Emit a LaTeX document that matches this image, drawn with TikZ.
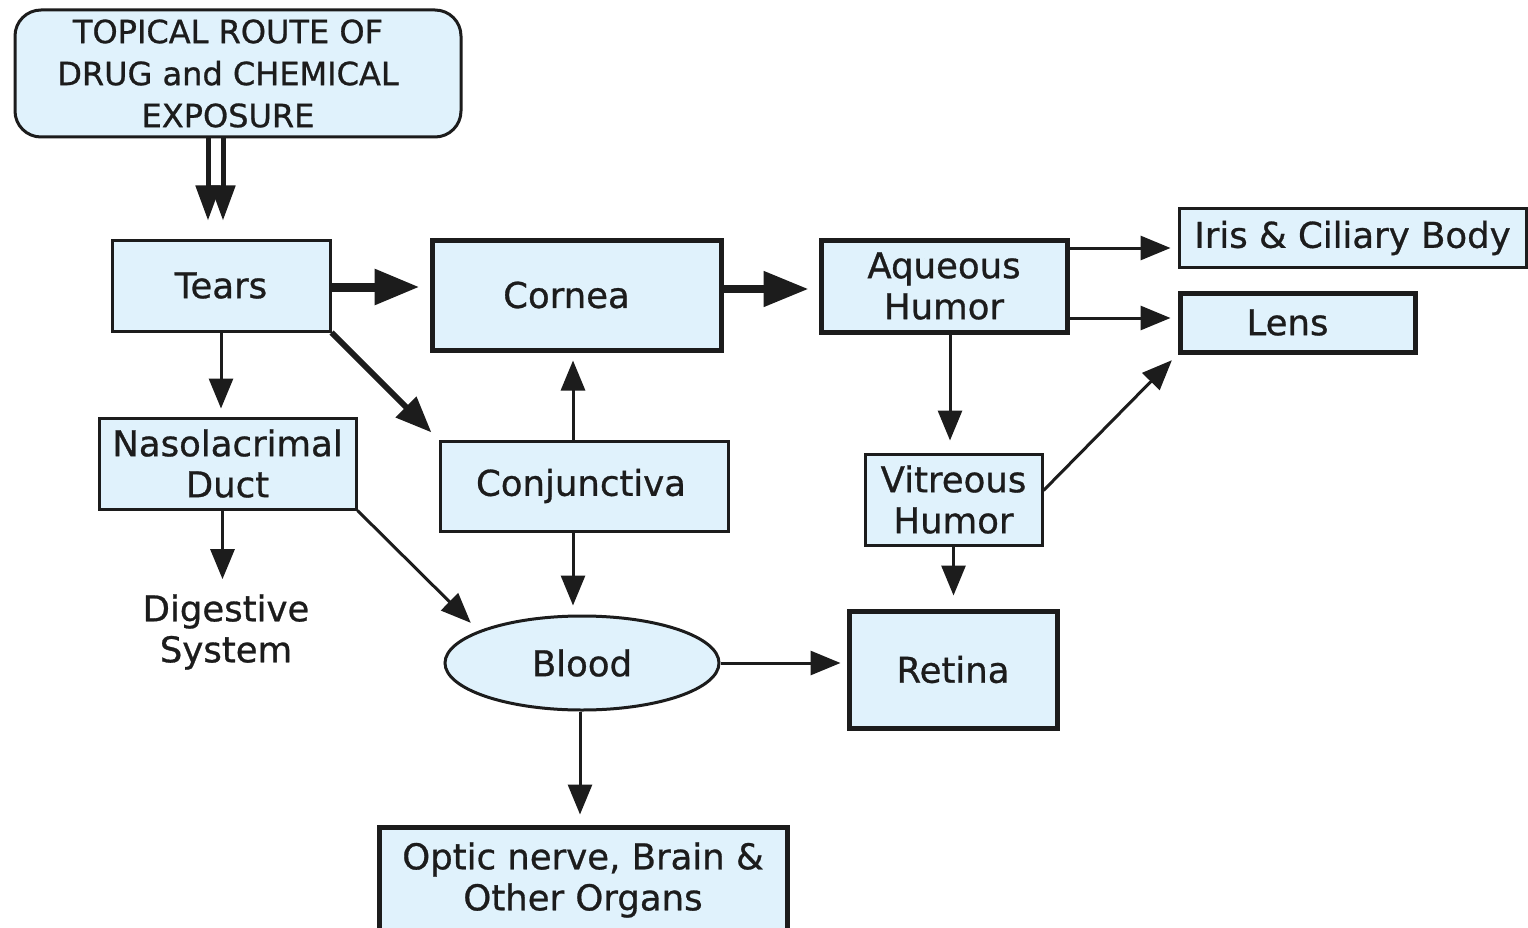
\documentclass[tikz,border=0pt]{standalone}
\usepackage{fontspec}
\setmainfont{DejaVu Sans}[FakeBold=0.8]
\usetikzlibrary{arrows.meta,shapes.geometric,calc}
\definecolor{boxfill}{HTML}{E0F2FC}
\definecolor{ink}{HTML}{1C1C1C}
\begin{document}
\begin{tikzpicture}[x=1pt,y=-1pt,
  every node/.style={text=ink,font=\fontsize{35.5}{41}\selectfont,align=center,inner sep=0pt},
  thinbox/.style={draw=ink,fill=boxfill,line width=3pt},
  thickbox/.style={draw=ink,fill=boxfill,line width=5pt},
  arr/.style={draw=ink,line width=3pt,-{Triangle[length=30pt,width=24pt]}},
  bigarr/.style={draw=ink,line width=9pt,-{Triangle[length=45pt,width=34pt]}},
  diagarr/.style={draw=ink,line width=6pt,-{Triangle[length=36pt,width=28pt]}},
  duoarr/.style={draw=ink,line width=5pt,-{Triangle[length=35pt,width=24pt]}}]
\clip (0,0) rectangle (1528,928);
\fill[white] (0,0) rectangle (1528,928);

% boxes
\node[thinbox,rounded corners=26pt,minimum width=446pt,minimum height=127pt,
      font=\fontsize{32}{42}\selectfont] (top) at (238,73.5)
      {\hspace*{-20pt}TOPICAL ROUTE OF\\\hspace*{-20pt}DRUG and CHEMICAL\\\hspace*{-20pt}EXPOSURE};
\node[thinbox,minimum width=218pt,minimum height=91pt] (tears) at (221,285.5) {Tears};
\node[thickbox,minimum width=289pt,minimum height=110pt] (cornea) at (576.5,295) {\hspace*{-20pt}Cornea};
\node[thickbox,minimum width=246pt,minimum height=92pt] (aqueous) at (944,286) {Aqueous\\Humor};
\node[thinbox,minimum width=347pt,minimum height=58pt] (iris) at (1352.5,238) {Iris \& Ciliary Body};
\node[thickbox,minimum width=235pt,minimum height=59pt] (lens) at (1297.5,322.5) {\hspace*{-20pt}Lens};
\node[thinbox,minimum width=257pt,minimum height=91pt] (naso) at (227.5,463.5) {Nasolacrimal\\Duct};
\node[thinbox,minimum width=288pt,minimum height=90pt] (conj) at (584,486) {\hspace*{-6pt}Conjunctiva};
\node[thinbox,minimum width=177pt,minimum height=91pt] (vitreous) at (953.5,499.5) {Vitreous\\Humor};
\node[inner sep=4pt] (digest) at (226,632) {Digestive\\System};
\node[ellipse,draw=ink,fill=boxfill,line width=3pt,minimum width=274pt,minimum height=94pt] (blood) at (582,663) {Blood};
\node[thickbox,minimum width=208pt,minimum height=117pt] (retina) at (953,669.5) {Retina};
\node[thickbox,minimum width=408pt,minimum height=106pt] (optic) at (583,880) {Optic nerve, Brain \&\\Other Organs};

% double arrow from the exposure box into the tears
\draw[duoarr,shorten >=18pt] ([xshift=-13pt]tears.north |- top.south) -- ([xshift=-13pt]tears.north);
\draw[duoarr,shorten >=18pt] ([xshift=2pt]tears.north |- top.south) -- ([xshift=2pt]tears.north);

% main path through the eye
\draw[bigarr,shorten >=10pt] ([yshift=-1.5pt]tears.east) -- ([yshift=-1.5pt]tears.east -| cornea.west);
\draw[bigarr,line width=8pt,shorten >=10pt] ([yshift=6pt]cornea.east) -- ([yshift=6pt]cornea.east -| aqueous.west);
\draw[arr,shorten >=7pt] ([yshift=38pt]aqueous.east) -- ([yshift=38pt]aqueous.east -| iris.west);
\draw[arr,shorten >=7pt] ([yshift=-32pt]aqueous.east) -- ([yshift=-32pt]aqueous.east -| lens.west);
\draw[arr,shorten >=12pt] ([xshift=6pt]aqueous.south) -- ([xshift=6pt]aqueous.south |- vitreous.north);
\draw[arr,shorten >=8pt] ([yshift=9pt]vitreous.east) -- (lens.south west);
\draw[arr,shorten >=13pt] (vitreous.south) -- (vitreous.south |- retina.north);

% tears drainage and conjunctival route
\draw[arr,shorten >=8pt] (tears.south) -- (tears.south |- naso.north);
\draw[diagarr,shorten >=10pt] (tears.south east) -- (conj.north west);
\draw[arr,shorten >=8pt] ([xshift=-11pt]conj.north) -- ([xshift=-11pt]conj.north |- cornea.south);
\draw[arr,shorten >=9pt] ([xshift=-11pt]conj.south) -- ([xshift=-11pt]conj.south |- blood.north);
\draw[arr,shorten >=11pt] ([xshift=-5pt]naso.south) -- ([xshift=-5pt]naso.south |- digest.north);
\draw[arr,shorten >=13pt] (naso.south east) -- ([shift={(-102pt,31pt)}]blood.center);

% systemic route
\draw[arr,shorten >=6pt] (blood.east) -- (blood.east -| retina.west);
\draw[arr,shorten >=10pt] ([xshift=-2pt]blood.south) -- ([xshift=-2pt]blood.south |- optic.north);
\end{tikzpicture}
\end{document}
